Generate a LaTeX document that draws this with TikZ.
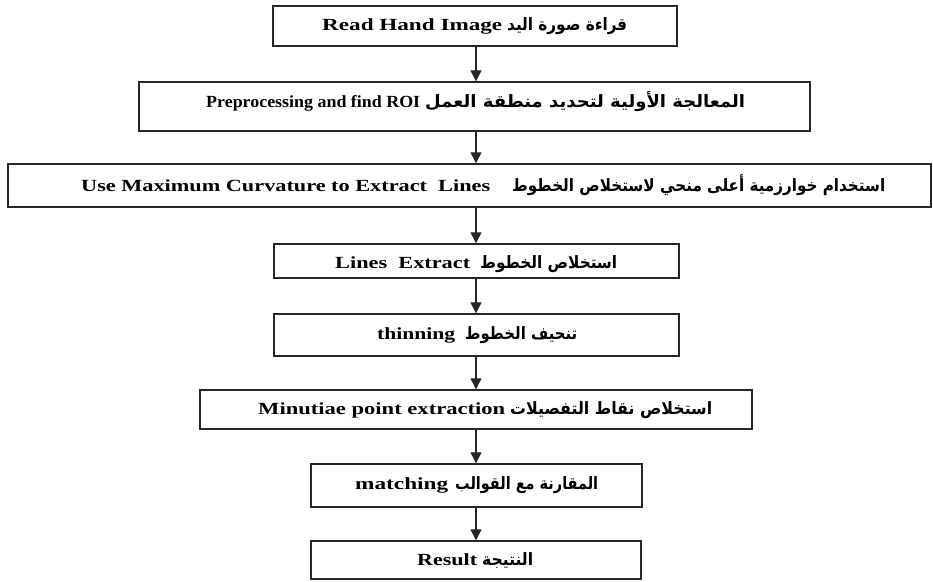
\documentclass[tikz,border=0pt]{standalone}
\usepackage{fontspec}
\setmainfont{Liberation Serif}
\newfontfamily\arfont[Script=Arabic]{DejaVu Sans}
\TeXXeTstate=1
\usetikzlibrary{arrows.meta}
\newcommand{\fitw}[2]{\resizebox{#1}{\height}{#2}}
\newcommand{\arstyle}{\arfont\bfseries\fontsize{17}{20}\selectfont}
\tikzset{
  stepbox/.style={draw=black!85, line width=1.4pt, inner sep=0pt, anchor=center},
  txt/.style={inner sep=0pt, anchor=base west, font=\fontsize{17}{20}\selectfont\bfseries},
  arr/.style={draw=black!85, line width=1.2pt, -{Triangle[width=11pt,length=11pt]}}
}
\begin{document}
\begin{tikzpicture}[x=1pt,y=-1pt]
\useasboundingbox (0,0) rectangle (933,581);
\coordinate (axis) at (476,0);
\node[stepbox, minimum width=404pt, minimum height=40pt] (b1) at (475,26) {};
\node[stepbox, minimum width=671pt, minimum height=49pt] (b2) at (474.5,106.5) {};
\node[stepbox, minimum width=923pt, minimum height=43pt] (b3) at (469.5,185.5) {};
\node[stepbox, minimum width=405pt, minimum height=34pt] (b4) at (476.5,261) {};
\node[stepbox, minimum width=405pt, minimum height=42pt] (b5) at (476.5,335) {};
\node[stepbox, minimum width=552pt, minimum height=39pt] (b6) at (476,409.5) {};
\node[stepbox, minimum width=331pt, minimum height=43pt] (b7) at (476.5,485.5) {};
\node[stepbox, minimum width=330pt, minimum height=38pt] (b8) at (476,560) {};
\node[txt] (t1) at (322,30)
  {\fitw{180pt}{Read Hand Image}\hspace{5pt}\fitw{120pt}{\arstyle\beginR قراءة صورة اليد\endR}};
\node[txt] (t2) at (206,107)
  {\fitw{214pt}{Preprocessing and find ROI}\hspace{5pt}\fitw{320pt}{\arstyle\beginR المعالجة الأولية لتحديد منطقة العمل\endR}};
\node[txt] (t3) at (81,191)
  {\fitw{409pt}{Use Maximum Curvature to Extract\ \ Lines}\hspace{22pt}\fitw{373pt}{\arstyle\beginR استخدام خوارزمية أعلى منحي لاستخلاص الخطوط\endR}};
\node[txt] (t4) at (335,268)
  {\fitw{135pt}{Lines\ \ Extract}\hspace{10pt}\fitw{137pt}{\arstyle\beginR استخلاص الخطوط\endR}};
\node[txt] (t5) at (377,339)
  {\fitw{78pt}{thinning}\hspace{10pt}\fitw{112pt}{\arstyle\beginR تنحيف الخطوط\endR}};
\node[txt] (t6) at (258,414)
  {\fitw{247pt}{Minutiae point extraction}\hspace{5pt}\fitw{202pt}{\arstyle\beginR استخلاص نقاط التفصيلات\endR}};
\node[txt] (t7) at (355,489)
  {\fitw{93pt}{matching}\hspace{7pt}\fitw{143pt}{\arstyle\beginR المقارنة مع القوالب\endR}};
\node[txt] (t8) at (417,565)
  {\fitw{60pt}{Result}\hspace{5pt}\fitw{51pt}{\arstyle\beginR النتيجة\endR}};
\draw[arr] (b1.south -| axis) -- (b2.north -| axis);
\draw[arr] (b2.south -| axis) -- (b3.north -| axis);
\draw[arr] (b3.south -| axis) -- (b4.north -| axis);
\draw[arr] (b4.south -| axis) -- (b5.north -| axis);
\draw[arr] (b5.south -| axis) -- (b6.north -| axis);
\draw[arr] (b6.south -| axis) -- (b7.north -| axis);
\draw[arr] (b7.south -| axis) -- (b8.north -| axis);
\end{tikzpicture}
\end{document}
